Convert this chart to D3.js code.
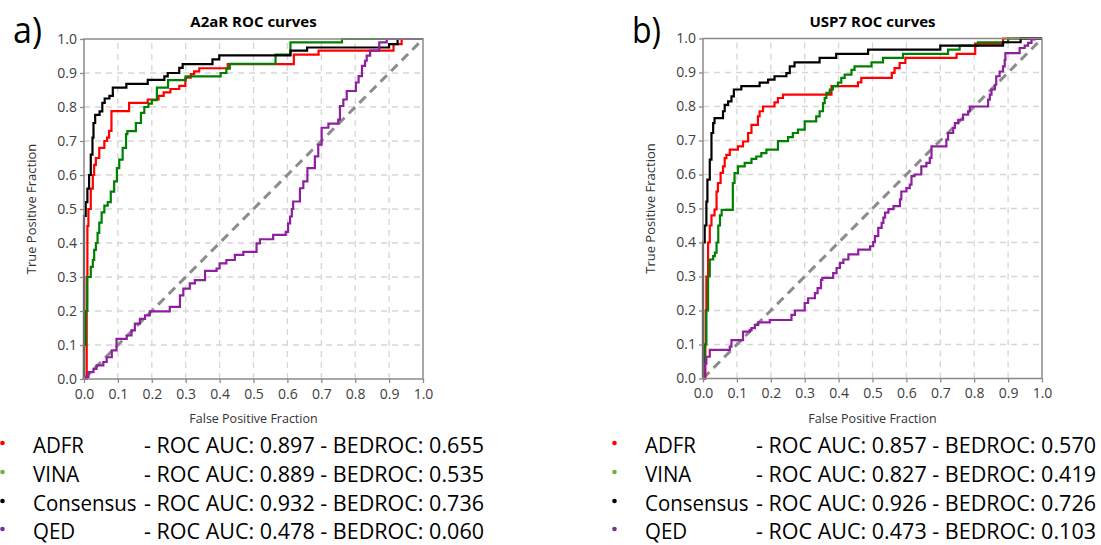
<!DOCTYPE html>
<html>
<head>
<meta charset="utf-8">
<script src="https://cdn.jsdelivr.net/npm/d3@7"></script>
<style>
  html, body { margin: 0; padding: 0; background: #fff; }
  svg { display: block; }
  .tick text { font-family: "Open Sans", sans-serif; font-size: 14px; fill: #404040; }
</style>
</head>
<body>
<svg id="chart" width="1101" height="545"></svg>
<script>
// ROC points [false positive fraction, true positive fraction]
const a2ar_adfr = [[0,0],[0.005,0],[0.008,0.3],[0.01,0.45],[0.013,0.5],[0.02,0.56],[0.026,0.6],[0.03,0.63],[0.035,0.65],[0.045,0.68],[0.06,0.70],[0.068,0.71],[0.074,0.73],[0.081,0.788],[0.133,0.812],[0.188,0.822],[0.22,0.833],[0.235,0.843],[0.255,0.853],[0.281,0.862],[0.299,0.886],[0.315,0.897],[0.325,0.905],[0.34,0.914],[0.424,0.926],[0.619,0.954],[0.692,0.966],[0.913,0.985],[0.937,1.0],[1,1]];
const a2ar_vina = [[0,0],[0,0.1],[0.005,0.2],[0.01,0.3],[0.02,0.33],[0.026,0.35],[0.03,0.38],[0.035,0.4],[0.04,0.43],[0.045,0.46],[0.052,0.49],[0.06,0.51],[0.07,0.52],[0.079,0.551],[0.089,0.581],[0.097,0.62],[0.104,0.645],[0.114,0.68],[0.124,0.72],[0.128,0.729],[0.153,0.753],[0.168,0.783],[0.178,0.8],[0.19,0.81],[0.2,0.82],[0.215,0.857],[0.248,0.879],[0.3,0.89],[0.403,0.9],[0.42,0.913],[0.43,0.927],[0.565,0.954],[0.609,0.99],[0.761,1.0],[1,1]];
const a2ar_consensus = [[0,0],[0,0.48],[0.005,0.52],[0.01,0.56],[0.015,0.6],[0.02,0.66],[0.025,0.71],[0.028,0.753],[0.033,0.777],[0.046,0.787],[0.054,0.812],[0.061,0.825],[0.075,0.833],[0.085,0.857],[0.125,0.868],[0.188,0.88],[0.237,0.89],[0.247,0.9],[0.281,0.915],[0.291,0.926],[0.379,0.94],[0.399,0.952],[0.609,0.966],[0.658,0.975],[0.9,0.985],[0.925,1.0],[1,1]];
const a2ar_qed = [[0,0],[0,0.005],[0.013,0.02],[0.028,0.03],[0.037,0.04],[0.057,0.05],[0.067,0.064],[0.082,0.084],[0.096,0.118],[0.126,0.128],[0.14,0.143],[0.15,0.163],[0.165,0.177],[0.18,0.187],[0.194,0.199],[0.253,0.212],[0.283,0.246],[0.293,0.266],[0.312,0.281],[0.327,0.291],[0.357,0.318],[0.391,0.325],[0.40,0.34],[0.42,0.35],[0.445,0.365],[0.47,0.374],[0.509,0.399],[0.519,0.411],[0.558,0.424],[0.595,0.433],[0.602,0.458],[0.608,0.478],[0.613,0.5],[0.617,0.522],[0.637,0.561],[0.647,0.581],[0.659,0.62],[0.681,0.655],[0.691,0.689],[0.701,0.739],[0.721,0.751],[0.75,0.763],[0.755,0.803],[0.765,0.822],[0.775,0.847],[0.802,0.872],[0.81,0.891],[0.82,0.921],[0.829,0.936],[0.834,0.951],[0.844,0.966],[0.871,0.99],[0.893,1.0],[1,1]];

const usp7_adfr = [[0,0],[0.005,0],[0.007,0.1],[0.008,0.2],[0.01,0.3],[0.015,0.4],[0.02,0.45],[0.025,0.48],[0.034,0.497],[0.04,0.55],[0.044,0.575],[0.052,0.605],[0.059,0.624],[0.064,0.648],[0.069,0.658],[0.079,0.673],[0.103,0.683],[0.118,0.697],[0.133,0.722],[0.143,0.746],[0.162,0.771],[0.167,0.786],[0.177,0.8],[0.211,0.812],[0.221,0.825],[0.236,0.835],[0.379,0.86],[0.457,0.871],[0.467,0.884],[0.557,0.899],[0.565,0.913],[0.58,0.928],[0.597,0.943],[0.748,0.955],[0.803,0.985],[0.885,1.0],[1,1]];
const usp7_vina = [[0,0],[0.003,0],[0.005,0.1],[0.01,0.2],[0.015,0.3],[0.02,0.35],[0.03,0.36],[0.035,0.37],[0.04,0.4],[0.045,0.45],[0.05,0.48],[0.055,0.496],[0.088,0.575],[0.093,0.604],[0.103,0.624],[0.123,0.634],[0.143,0.646],[0.157,0.653],[0.172,0.663],[0.187,0.673],[0.221,0.698],[0.251,0.71],[0.265,0.722],[0.28,0.732],[0.3,0.756],[0.334,0.771],[0.344,0.786],[0.354,0.81],[0.359,0.825],[0.364,0.84],[0.374,0.85],[0.383,0.86],[0.398,0.87],[0.408,0.884],[0.418,0.894],[0.438,0.908],[0.447,0.918],[0.497,0.93],[0.531,0.943],[0.59,0.955],[0.723,0.967],[0.757,0.979],[0.811,0.989],[0.9,1.0],[1,1]];
const usp7_consensus = [[0,0],[0,0.4],[0.005,0.45],[0.01,0.52],[0.013,0.585],[0.02,0.644],[0.025,0.722],[0.03,0.751],[0.034,0.766],[0.059,0.786],[0.064,0.805],[0.074,0.815],[0.084,0.83],[0.091,0.85],[0.113,0.86],[0.167,0.87],[0.192,0.879],[0.211,0.889],[0.246,0.898],[0.256,0.918],[0.27,0.93],[0.344,0.943],[0.393,0.955],[0.487,0.967],[0.70,0.979],[0.885,0.989],[0.937,1.0],[1,1]];
const usp7_qed = [[0,0],[0.005,0.044],[0.01,0.064],[0.02,0.084],[0.079,0.094],[0.084,0.113],[0.118,0.138],[0.138,0.143],[0.143,0.148],[0.153,0.158],[0.163,0.165],[0.197,0.172],[0.261,0.187],[0.271,0.2],[0.3,0.222],[0.31,0.236],[0.33,0.251],[0.338,0.266],[0.348,0.29],[0.352,0.296],[0.384,0.31],[0.394,0.325],[0.404,0.34],[0.414,0.35],[0.429,0.365],[0.458,0.379],[0.493,0.389],[0.502,0.401],[0.507,0.419],[0.517,0.443],[0.527,0.458],[0.532,0.473],[0.537,0.488],[0.547,0.498],[0.562,0.507],[0.581,0.527],[0.585,0.55],[0.6,0.56],[0.61,0.57],[0.615,0.595],[0.624,0.6],[0.644,0.624],[0.659,0.634],[0.669,0.649],[0.674,0.683],[0.718,0.703],[0.723,0.722],[0.738,0.737],[0.743,0.751],[0.753,0.761],[0.767,0.776],[0.782,0.786],[0.787,0.8],[0.841,0.82],[0.846,0.835],[0.851,0.85],[0.861,0.864],[0.865,0.889],[0.875,0.903],[0.885,0.918],[0.89,0.937],[0.892,0.957],[0.934,0.972],[0.949,0.979],[0.959,0.987],[0.969,0.997],[0.978,1.0],[1,1]];

const methods = ["ADFR", "VINA", "Consensus", "QED"];
const a2ar_auc = [0.897, 0.889, 0.932, 0.478];
const a2ar_bedroc = [0.655, 0.535, 0.736, 0.060];
const usp7_auc = [0.857, 0.827, 0.926, 0.473];
const usp7_bedroc = [0.570, 0.419, 0.726, 0.103];
const tick_values = [0, 0.1, 0.2, 0.3, 0.4, 0.5, 0.6, 0.7, 0.8, 0.9, 1.0];

const line_colors = ["#ff0000", "#008000", "#000000", "#8e1f9e"];
const dot_colors = ["#ff0000", "#70ad47", "#000000", "#7030a0"];

const svg = d3.select("#chart");

function drawPanel(p) {
  const w = 339, h = 340;
  const x = d3.scaleLinear().domain([0, 1]).range([p.left, p.left + w]);
  const y = d3.scaleLinear().domain([0, 1]).range([p.top + h, p.top]);
  const g = svg.append("g");

  // dashed grid
  const inner = tick_values.filter(d => d > 0 && d < 1);
  g.selectAll(".vgrid").data(inner).enter().append("line")
    .attr("x1", d => x(d)).attr("x2", d => x(d))
    .attr("y1", y(0)).attr("y2", y(1))
    .attr("stroke", "#d6d6d6").attr("stroke-width", 1.3).attr("stroke-dasharray", "6,5");
  g.selectAll(".hgrid").data(inner).enter().append("line")
    .attr("y1", d => y(d)).attr("y2", d => y(d))
    .attr("x1", x(0)).attr("x2", x(1))
    .attr("stroke", "#d6d6d6").attr("stroke-width", 1.3).attr("stroke-dasharray", "6,5");

  // chance diagonal
  g.append("line")
    .attr("x1", x(0)).attr("y1", y(0)).attr("x2", x(1)).attr("y2", y(1))
    .attr("stroke", "#8c8c8c").attr("stroke-width", 3).attr("stroke-dasharray", "9,6");

  const line = d3.line().x(d => x(d[0])).y(d => y(d[1])).curve(d3.curveStepAfter);
  p.series.forEach(function (s, i) {
    g.append("path").datum(s)
      .attr("d", line)
      .attr("fill", "none")
      .attr("stroke", line_colors[i])
      .attr("stroke-width", 2.2);
  });

  // frame
  g.append("rect")
    .attr("x", x(0)).attr("y", y(1))
    .attr("width", w).attr("height", h)
    .attr("fill", "none").attr("stroke", "#8a8a8a").attr("stroke-width", 1.5);

  const fmt = d3.format(".1f");
  const xa = g.append("g").attr("transform", "translate(0," + y(0) + ")")
    .call(d3.axisBottom(x).tickValues(tick_values).tickFormat(fmt).tickSize(4).tickPadding(6));
  const ya = g.append("g").attr("transform", "translate(" + x(0) + ",0)")
    .call(d3.axisLeft(y).tickValues(tick_values).tickFormat(fmt).tickSize(4).tickPadding(3));
  [xa, ya].forEach(function (a) {
    a.select(".domain").remove();
    a.selectAll(".tick line").attr("stroke", "#8a8a8a").attr("stroke-width", 1.3);
  });

  g.append("text")
    .attr("x", (x(0) + x(1)) / 2).attr("y", 27)
    .attr("text-anchor", "middle")
    .style("font-family", "Open Sans, sans-serif").style("font-size", "15px").style("font-weight", "bold")
    .text(p.title);

  g.append("text")
    .attr("x", p.left - 71).attr("y", 43)
    .style("font-family", "Open Sans, sans-serif").style("font-size", "36px")
    .attr("textLength", 29).attr("lengthAdjust", "spacingAndGlyphs")
    .text(p.label);

  g.append("text")
    .attr("x", (x(0) + x(1)) / 2).attr("y", 423)
    .attr("text-anchor", "middle")
    .style("font-family", "Open Sans, sans-serif").style("font-size", "12.5px").style("fill", "#333")
    .text("False Positive Fraction");

  g.append("text")
    .attr("transform", "translate(" + (p.left - 48) + "," + (y(0.5)) + ") rotate(-90)")
    .attr("text-anchor", "middle")
    .style("font-family", "Open Sans, sans-serif").style("font-size", "13px").style("fill", "#333")
    .text("True Positive Fraction");

  // legend
  const rows = [453, 482, 511, 539];
  methods.forEach(function (m, i) {
    g.append("circle")
      .attr("cx", p.legend_x + 2.5).attr("cy", rows[i] - 10).attr("r", 2.3)
      .attr("fill", dot_colors[i]);
    const t = g.append("text")
      .attr("x", p.legend_x + 33).attr("y", rows[i])
      .style("font-family", "Open Sans, sans-serif").style("font-size", "22px")
      .text(m);
    t.attr("textLength", t.node().getComputedTextLength() * 0.93).attr("lengthAdjust", "spacingAndGlyphs");
    const r = g.append("text")
      .attr("x", p.legend_x + 144).attr("y", rows[i])
      .style("font-family", "Open Sans, sans-serif").style("font-size", "21.2px")
      .text("- ROC AUC: " + p.auc[i].toFixed(3) + " - BEDROC: " + p.bedroc[i].toFixed(3));
    if (r.node().getComputedTextLength() < 340) {
      r.attr("textLength", 340).attr("lengthAdjust", "spacingAndGlyphs");
    }
  });
}

drawPanel({
  left: 84, top: 39, title: "A2aR ROC curves", label: "a)", legend_x: 0,
  series: [a2ar_adfr, a2ar_vina, a2ar_consensus, a2ar_qed],
  auc: a2ar_auc, bedroc: a2ar_bedroc
});
drawPanel({
  left: 703, top: 38.5, title: "USP7 ROC curves", label: "b)", legend_x: 612,
  series: [usp7_adfr, usp7_vina, usp7_consensus, usp7_qed],
  auc: usp7_auc, bedroc: usp7_bedroc
});
</script>
</body>
</html>
